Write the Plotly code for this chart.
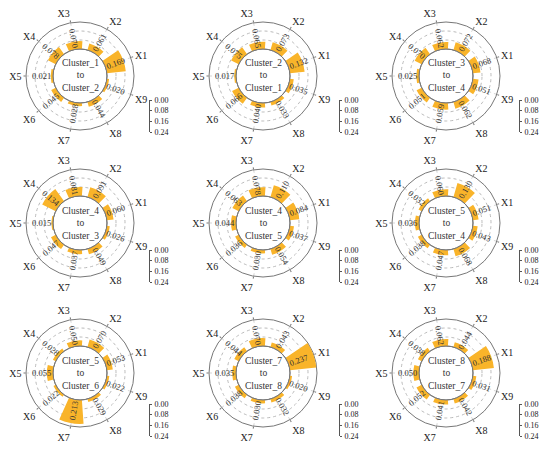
import math
import plotly.graph_objects as go

features = ["X1", "X2", "X3", "X4", "X5", "X6", "X7", "X8", "X9"]

titles = [
    ("Cluster_1", "Cluster_2"), ("Cluster_2", "Cluster_1"), ("Cluster_3", "Cluster_4"),
    ("Cluster_4", "Cluster_3"), ("Cluster_4", "Cluster_5"), ("Cluster_5", "Cluster_4"),
    ("Cluster_5", "Cluster_6"), ("Cluster_7", "Cluster_8"), ("Cluster_8", "Cluster_7"),
]

c1_to_c2 = [0.169, 0.061, 0.070, 0.078, 0.021, 0.045, 0.028, 0.044, 0.020]
c2_to_c1 = [0.132, 0.073, 0.065, 0.075, 0.017, 0.066, 0.040, 0.033, 0.035]
c3_to_c4 = [0.068, 0.072, 0.062, 0.070, 0.025, 0.051, 0.059, 0.062, 0.051]
c4_to_c3 = [0.060, 0.091, 0.081, 0.134, 0.015, 0.047, 0.037, 0.049, 0.026]
c4_to_c5 = [0.084, 0.110, 0.078, 0.063, 0.044, 0.036, 0.030, 0.054, 0.037]
c5_to_c4 = [0.051, 0.130, 0.060, 0.032, 0.036, 0.038, 0.047, 0.068, 0.043]
c5_to_c6 = [0.053, 0.070, 0.050, 0.028, 0.055, 0.022, 0.213, 0.029, 0.022]
c7_to_c8 = [0.237, 0.043, 0.070, 0.044, 0.035, 0.038, 0.030, 0.032, 0.020]
c8_to_c7 = [0.188, 0.044, 0.062, 0.038, 0.050, 0.052, 0.041, 0.042, 0.031]

panels = [c1_to_c2, c2_to_c1, c3_to_c4, c4_to_c3, c4_to_c5, c5_to_c4,
          c5_to_c6, c7_to_c8, c8_to_c7]

scale_ticks = [0.00, 0.08, 0.16, 0.24]

# page body has an 8px margin: keep the figure inside the 550x453 window
OFF = 8
W, H = 550 - 2 * OFF, 453 - 2 * OFF
# layout in window pixels
COL_X = [80, 263, 446]
ROW_Y = [76, 223, 373]
SCALE_X = [149, 339, 519]
SCALE_TOP = [100, 250, 404]
SCALE_LEN = 32
R = 54
HOLE = 0.5
RMAX = 0.24
BAR_COLOR = "#F9B42A"
FONT = "Liberation Serif"
LABEL_R = 0.10


def px(x):
    return (x - OFF) / W


def py(y):
    return 1 - (y - OFF) / H


fig = go.Figure()
layout = dict(
    width=W, height=H,
    margin=dict(l=0, r=0, t=0, b=0),
    paper_bgcolor="white", plot_bgcolor="white",
    showlegend=False,
    font=dict(family=FONT, size=10, color="#222222"),
)
annotations = []
shapes = []

for k, vals in enumerate(panels):
    cx = COL_X[k % 3]
    cy = ROW_Y[k // 3]
    pname = "polar" if k == 0 else f"polar{k + 1}"

    fig.add_trace(go.Barpolar(
        r=vals, theta=features, width=0.7,
        marker=dict(color=BAR_COLOR, line=dict(width=0)),
        subplot=pname, hoverinfo="skip",
    ))

    layout[pname] = dict(
        domain=dict(x=[px(cx - R), px(cx + R)], y=[py(cy + R), py(cy - R)]),
        hole=HOLE,
        bgcolor="white",
        radialaxis=dict(
            range=[0, RMAX], tickvals=scale_ticks[1:3], showticklabels=False,
            ticks="", showline=False, gridcolor="#BBBBBB", griddash="dot",
            gridwidth=1, layer="below traces",
        ),
        angularaxis=dict(
            type="category", categoryarray=features, rotation=20,
            direction="counterclockwise", showline=True, linecolor="#777777",
            linewidth=1, ticks="outside", ticklen=2, tickcolor="#777777",
            gridcolor="#D5D5D5", griddash="dot", layer="below traces",
            tickfont=dict(family=FONT, size=10, color="#222222"),
        ),
    )

    # inner ring
    ri = R * HOLE
    shapes.append(dict(
        type="circle", xref="paper", yref="paper",
        x0=px(cx - ri), x1=px(cx + ri), y0=py(cy + ri), y1=py(cy - ri),
        line=dict(color="#777777", width=1),
    ))

    annotations.append(dict(
        x=px(cx), y=py(cy), xref="paper", yref="paper",
        xanchor="center", yanchor="middle",
        text=f"{titles[k][0]}<br>to<br>{titles[k][1]}", showarrow=False,
        font=dict(family=FONT, size=9.5, color="#333333"),
    ))

    # value labels along radial direction
    for i, v in enumerate(vals):
        th = 20 + 40 * i
        rp = R * (HOLE + (1 - HOLE) * LABEL_R / RMAX)
        x = px(cx + rp * math.cos(math.radians(th)))
        y = py(cy - rp * math.sin(math.radians(th)))
        ang = 180 - th if 90 < th < 270 else -th
        annotations.append(dict(
            x=x, y=y, xref="paper", yref="paper", text=f"{v:.3f}",
            xanchor="center", yanchor="middle",
            textangle=ang, showarrow=False,
            font=dict(family=FONT, size=8.5, color="#333333"),
        ))

    # side scale bar for the radial axis
    ax = k + 1
    sx = SCALE_X[k % 3]
    top = SCALE_TOP[k // 3]
    fig.add_trace(go.Scatter(
        x=[0] * len(scale_ticks), y=scale_ticks, mode="markers",
        marker=dict(opacity=0), hoverinfo="skip",
        xaxis=f"x{ax}", yaxis=f"y{ax}",
    ))
    layout[f"xaxis{ax}"] = dict(
        domain=[px(sx - 1), px(sx)], anchor=f"y{ax}", visible=False,
        fixedrange=True, automargin=False,
    )
    layout[f"yaxis{ax}"] = dict(
        domain=[py(top + SCALE_LEN), py(top)], anchor=f"x{ax}", side="right",
        range=[RMAX, 0], tickvals=scale_ticks, tickformat=".2f",
        showline=True, linecolor="#555555", linewidth=1,
        ticks="outside", ticklen=2, tickcolor="#555555", ticklabelstandoff=1,
        showgrid=False, zeroline=False, fixedrange=True, automargin=False,
        tickfont=dict(family=FONT, size=8, color="#222222"),
    )

layout["annotations"] = annotations
layout["shapes"] = shapes
fig.update_layout(**layout)
fig.write_html("out.html")
